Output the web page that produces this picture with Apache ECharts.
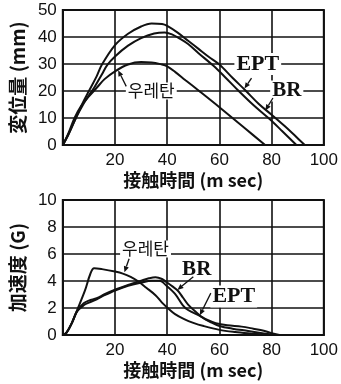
<!DOCTYPE html>
<html>
<head>
<meta charset="utf-8">
<script src="https://cdn.jsdelivr.net/npm/echarts@6/dist/echarts.min.js"></script>
<style>
  html, body { margin: 0; padding: 0; background: #fff; }
  #chart { width: 341px; height: 384px; }
</style>
</head>
<body>
<div id="chart"></div>
<script>
// Contact time axis (ms) shared by both panels
const timeTicks = [0, 20, 40, 60, 80, 100];
const dispTicks = [0, 10, 20, 30, 40, 50];
const accTicks = [0, 2, 4, 6, 8, 10];

// Displacement (mm) vs contact time (ms): [time, value]
const dispEPT = [[0,0],[2,3.6],[5,10],[8,16.3],[10,20],[13,25.5],[15,29.8],[20,37],[25,41.2],[30,43.9],[34,45],[38,44.8],[40,44.1],[44,41.6],[48,38.6],[52,35.6],[56,32.6],[60,29.8],[65,24.9],[70,20.2],[75,15.3],[80,11.2],[85,7],[89,3.4],[92.7,0]];
const dispBR = [[0,0],[2,3.6],[5,10],[8,15.4],[10,18.4],[12,21.2],[15,26.2],[17,29.6],[20,32.8],[25,36.8],[30,39.6],[35,41.3],[39,41.7],[42,40.9],[45,39.3],[48,37.4],[52,34],[57.5,29.5],[62,25.3],[67.4,20],[73,14.8],[79,9.8],[84,5.2],[89.5,0]];
const dispUrethane = [[0,0],[2,4],[4.5,10],[7,14.4],[10,18],[13,21.2],[16,24.4],[20,27.3],[25,29.8],[30,30.7],[34,30.6],[38,29.8],[40,29.1],[43,27.1],[47,24],[52,20.2],[60,14],[70,6],[77.5,0]];

// Acceleration (G) vs contact time (ms): [time, value]
const accEPT = [[0,0],[1.5,0.2],[3.5,0.9],[5.5,1.75],[8,2.2],[10,2.4],[13,2.65],[16,2.95],[20,3.3],[25,3.65],[30,3.88],[34,4.02],[37,4.02],[40,3.6],[43,3.05],[46,2.2],[48,1.85],[52.5,1.42],[55,1.15],[58.6,0.88],[63,0.72],[68.5,0.62],[73,0.47],[77,0.32],[80,0.13],[83,0]];
const accBR = [[0,0],[1.5,0.2],[3.5,0.9],[5.5,1.8],[8,2.35],[10,2.55],[13,2.72],[16,3.02],[20,3.35],[25,3.7],[30,4.02],[33,4.2],[35.5,4.28],[38,4.15],[40,3.88],[42,3.6],[44,3.3],[46,2.78],[48,2.25],[51,1.7],[54,1.22],[57,0.92],[60,0.67],[65,0.47],[71,0.3],[77,0.12],[81,0]];
const accUrethane = [[0,0],[1.5,0.2],[3.5,0.9],[5.5,1.85],[8.5,3.3],[10.5,4.5],[12,4.95],[15,4.88],[20,4.7],[23,4.55],[26,4.3],[29,3.95],[32,3.5],[35.5,2.95],[38,2.4],[40.5,1.95],[43,1.55],[46.5,1.18],[50,0.9],[54,0.66],[60,0.38],[66,0.22],[72,0.11],[79,0]];

// Curve annotations: [text, time, value]
const dispLabels = [['EPT', 74.7, 30], ['BR', 85.8, 20], ['우레탄', 33.9, 20]];
const accLabels = [['우레탄', 31.7, 6.37], ['BR', 51.3, 4.85], ['EPT', 65.5, 2.85]];
// Leader arrows: [[fromTime, fromValue], [toTime, toValue]]
const dispArrows = [[[72.3, 24.8], [69.6, 20.9]], [[80.5, 17.4], [77.6, 12.8]], [[24.3, 21.7], [21.2, 27.7]]];
const accArrows = [[[25.4, 5.65], [23.6, 4.65]], [[50, 4.32], [43.9, 3.34]], [[56.7, 3.1], [52.5, 1.47]]];

const INK = '#111';
const numFont = 'Liberation Sans, Arial, sans-serif';
const cjkFont = '"Noto Sans CJK JP", "Noto Sans CJK KR", sans-serif';

function xAxisFor(gridIndex) {
  return {
    gridIndex, type: 'value', min: timeTicks[0], max: timeTicks[timeTicks.length - 1], interval: 20,
    name: '接触時間 (m sec)', nameLocation: 'middle', nameGap: 26,
    nameTextStyle: { color: INK, fontFamily: cjkFont, fontSize: 18, fontWeight: 'bold' },
    axisLine: { show: true, onZero: false, lineStyle: { color: INK, width: 2 } },
    axisTick: { show: false },
    axisLabel: { color: INK, fontFamily: numFont, fontSize: 17, margin: 7,
      formatter: v => (v === 0 ? '' : String(v)) },
    splitLine: { show: true, lineStyle: { color: INK, width: 1.6 } }
  };
}
function yAxisFor(gridIndex, ticks, name) {
  return {
    gridIndex, type: 'value', min: ticks[0], max: ticks[ticks.length - 1], interval: ticks[1] - ticks[0],
    name, nameLocation: 'middle', nameGap: 32, nameRotate: 90,
    nameTextStyle: { color: INK, fontFamily: cjkFont, fontSize: 19, fontWeight: 'bold' },
    axisLine: { show: true, lineStyle: { color: INK, width: 2 } },
    axisTick: { show: false },
    axisLabel: { color: INK, fontFamily: numFont, fontSize: 17, margin: 6 },
    splitLine: { show: true, lineStyle: { color: INK, width: 1.6 } }
  };
}

function labelPoints(list) {
  return list.map(([text, x, y]) => ({
    coord: [x, y], value: text,
    label: {
      show: true, position: 'inside', formatter: text,
      color: INK, backgroundColor: '#fff', padding: [0, 2],
      fontFamily: text === '우레탄' ? '"Noto Sans CJK KR", sans-serif' : 'Liberation Serif, Times New Roman, serif',
      fontSize: text === '우레탄' ? 17 : (text === 'EPT' ? 22 : 21),
      fontWeight: text === '우레탄' ? 'normal' : 'bold'
    }
  }));
}

function curve(name, data, xi, extra) {
  return Object.assign({
    name, type: 'line', xAxisIndex: xi, yAxisIndex: xi, data,
    smooth: 0.35, showSymbol: false, symbol: 'none',
    lineStyle: { color: INK, width: 2 }, itemStyle: { color: INK },
    animation: false, silent: true
  }, extra || {});
}

function labels(list) {
  return { markPoint: { symbol: 'rect', symbolSize: 0, silent: true, animation: false, data: labelPoints(list) } };
}

const chart = echarts.init(document.getElementById('chart'), null, { renderer: 'canvas' });
chart.setOption({
  backgroundColor: '#fff',
  animation: false,
  grid: [
    { left: 54, top: 10, width: 272, height: 135, show: true, borderColor: INK, borderWidth: 2 },
    { left: 54, top: 200, width: 272, height: 135, show: true, borderColor: INK, borderWidth: 2 }
  ],
  xAxis: [xAxisFor(0), xAxisFor(1)],
  yAxis: [yAxisFor(0, dispTicks, '変位量 (mm)'), yAxisFor(1, accTicks, '加速度 (G)')],
  series: [
    curve('EPT', dispEPT, 0, labels(dispLabels)),
    curve('BR', dispBR, 0),
    curve('우레탄', dispUrethane, 0),
    curve('EPT', accEPT, 1, labels(accLabels)),
    curve('BR', accBR, 1),
    curve('우레탄', accUrethane, 1)
  ]
});

// Leader arrows from each label to its curve, placed through the axes' own scales
function arrowGraphics(list, gridIndex) {
  const out = [];
  list.forEach(([from, to]) => {
    const p0 = chart.convertToPixel({ gridIndex }, from);
    const p1 = chart.convertToPixel({ gridIndex }, to);
    const dx = p1[0] - p0[0], dy = p1[1] - p0[1];
    const len = Math.hypot(dx, dy) || 1;
    const ux = dx / len, uy = dy / len;
    const head = 6, half = 2.6;
    const bx = p1[0] - ux * head, by = p1[1] - uy * head;
    out.push({
      type: 'line', silent: true, z: 100,
      shape: { x1: p0[0], y1: p0[1], x2: bx, y2: by },
      style: { stroke: INK, lineWidth: 1.3 }
    });
    out.push({
      type: 'polygon', silent: true, z: 100,
      shape: { points: [[p1[0], p1[1]], [bx - uy * half, by + ux * half], [bx + uy * half, by - ux * half]] },
      style: { fill: INK }
    });
  });
  return out;
}
chart.setOption({ graphic: arrowGraphics(dispArrows, 0).concat(arrowGraphics(accArrows, 1)) });
</script>
</body>
</html>
